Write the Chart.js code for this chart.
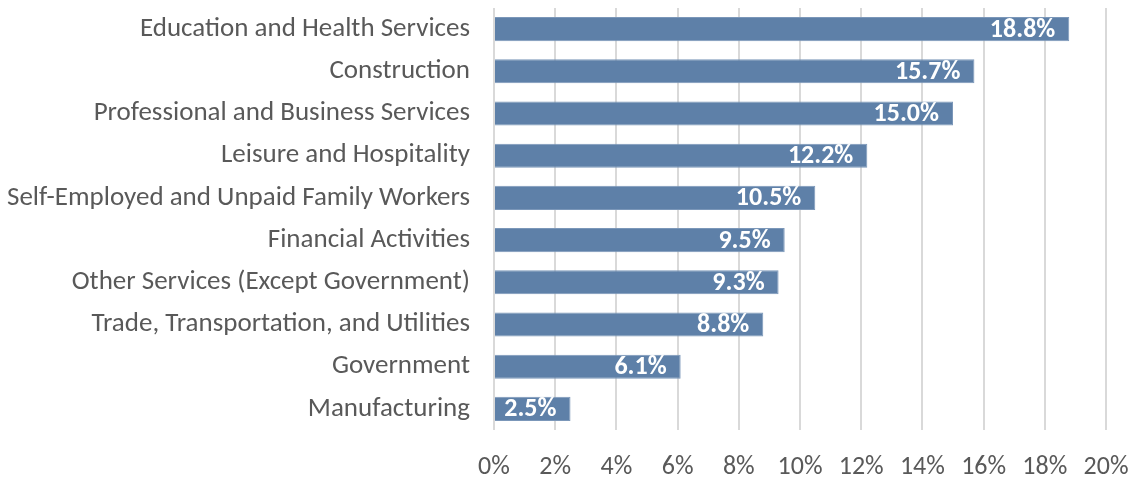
<!DOCTYPE html>
<html>
<head>
<meta charset="utf-8">
<script src="https://cdn.jsdelivr.net/npm/chart.js@4"></script>
<style>
  html, body { margin: 0; padding: 0; background: #fff; }
  #wrap { width: 1133px; height: 479px; }
</style>
</head>
<body>
<div id="wrap"><canvas id="barChart" width="1133" height="479"></canvas></div>
<script>
// categories and values
let sectores = [
    'Education and Health Services',
    'Construction',
    'Professional and Business Services',
    'Leisure and Hospitality',
    'Self-Employed and Unpaid Family Workers',
    'Financial Activities',
    'Other Services (Except Government)',
    'Trade, Transportation, and Utilities',
    'Government',
    'Manufacturing'
];
let porcentajes = [18.8, 15.7, 15.0, 12.2, 10.5, 9.5, 9.3, 8.8, 6.1, 2.5];
let ticksX = [0, 2, 4, 6, 8, 10, 12, 14, 16, 18, 20];

let fuente = "Carlito, Lato, sans-serif";
let colorBarra = '#5e80a8';

// white labels at the end of each bar
let etiquetasBarras = {
    id: 'etiquetasBarras',
    afterDatasetsDraw(chart) {
        const c = chart.ctx;
        const meta = chart.getDatasetMeta(0);
        c.save();
        c.fillStyle = '#ffffff';
        c.font = 'bold 26px ' + fuente;
        c.textAlign = 'right';
        c.textBaseline = 'middle';
        meta.data.forEach((bar, i) => {
            c.fillText(porcentajes[i].toFixed(1) + '%', bar.x - 14, bar.y + 1);
        });
        c.restore();
    }
};

new Chart(document.getElementById('barChart'), {
    type: 'bar',
    data: {
        labels: sectores,
        datasets: [{
            data: porcentajes,
            backgroundColor: colorBarra,
            borderColor: '#7b97b9',
            borderWidth: 1,
            categoryPercentage: 1,
            barPercentage: 0.57
        }]
    },
    options: {
        indexAxis: 'y',
        responsive: false,
        animation: false,
        layout: { padding: { top: 8, right: 27, left: 0, bottom: 0 } },
        plugins: {
            legend: { display: false },
            tooltip: { enabled: false }
        },
        scales: {
            x: {
                min: 0,
                max: 20,
                afterBuildTicks: (scale) => { scale.ticks = ticksX.map(v => ({ value: v })); },
                afterFit: (scale) => {
                    scale.height = 49;
                    scale.paddingLeft = 0;
                    scale.paddingRight = 0;
                },
                grid: { color: '#d9d9d9', lineWidth: 2, drawTicks: false },
                border: { display: false },
                ticks: {
                    padding: 22,
                    color: '#595959',
                    font: { family: fuente, size: 26 },
                    callback: (v) => v + '%'
                }
            },
            y: {
                afterFit: (scale) => {
                    scale.width = 494;
                    scale.paddingTop = 0;
                    scale.paddingBottom = 0;
                },
                grid: { display: false, drawTicks: false },
                border: { display: false },
                ticks: {
                    padding: 24,
                    color: '#595959',
                    font: { family: fuente, size: 27 }
                }
            }
        }
    },
    plugins: [etiquetasBarras]
});
</script>
</body>
</html>
